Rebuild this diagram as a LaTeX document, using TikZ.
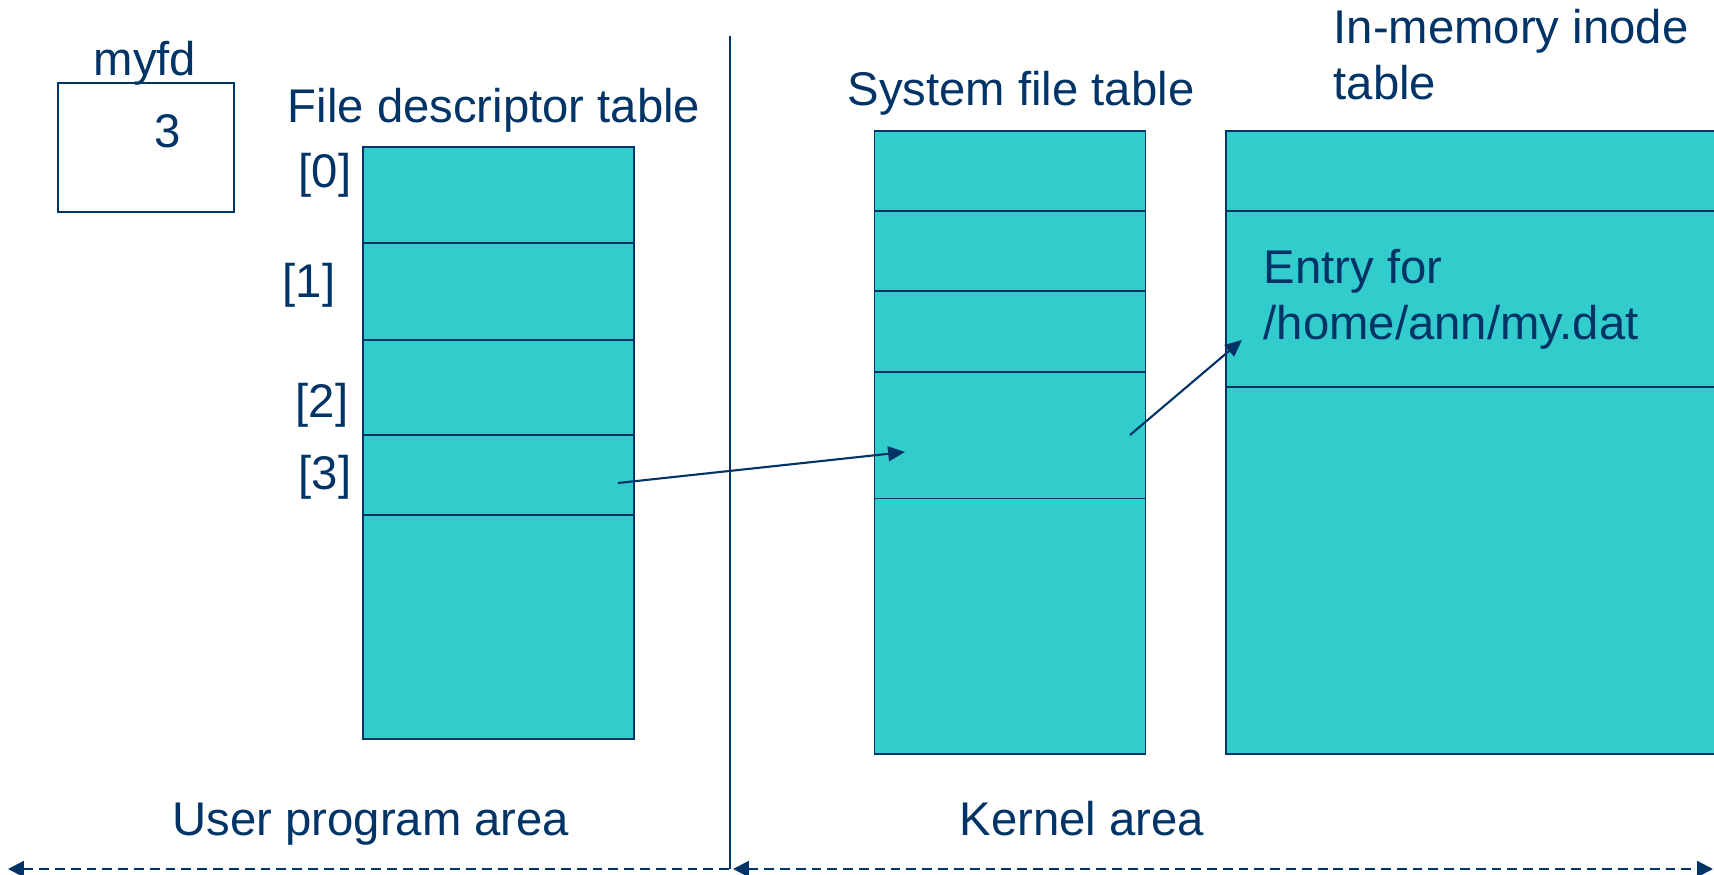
\documentclass[tikz,border=0pt]{standalone}
\usepackage{xcolor}
\usepackage{fontspec}
\setmainfont{Liberation Sans}
\usepackage{tikz}
\usetikzlibrary{arrows.meta, positioning}
\definecolor{Navy}{HTML}{003366}
\definecolor{Aqua}{HTML}{33CCCC}

\begin{document}
\begin{tikzpicture}[
  font=\fontsize{13.45}{16.2}\selectfont,
  every node/.style={text=Navy},
  label/.style={inner sep=0pt, anchor=base},
  cell/.style={draw=Navy, line width=0.5pt, fill=Aqua, inner sep=0pt},
  fdcell/.style={cell, minimum width=2.71cm},
  sfcell/.style={cell, minimum width=2.71cm},
  incell/.style={cell, minimum width=5.34cm},
  arrow/.style={-{Triangle[length=4.8pt, width=4.2pt]}, line width=0.6pt, draw=Navy},
  span/.style={line width=0.6pt, draw=Navy, dash pattern=on 2.8pt off 1.7pt},
  spanleft/.style={span, {Triangle[length=4.5pt, width=4.5pt]}-},
  spanboth/.style={span, {Triangle[length=4.5pt, width=4.5pt]}-{Triangle[length=4.5pt, width=4.5pt]}}
]
\useasboundingbox (0,0) rectangle (17.14,-8.75);
\clip (0,0) rectangle (17.14,-8.75);

% the variable holding the descriptor
\node[draw=Navy, line width=0.5pt, minimum width=1.76cm, minimum height=1.29cm, inner sep=0pt] (myfdbox) at (1.46,-1.475) {};
\node[label] (myfd) at (1.45,-0.76) {myfd};
\node[label] (myfdval) at (1.68,-1.48) {3};

% file descriptor table
\node[label] (fdtitle) at (4.94,-1.23) {File descriptor table};
\node[fdcell, minimum height=0.96cm] (fd0) at (4.985,-1.95) {};
\node[fdcell, minimum height=0.97cm] (fd1) at (4.985,-2.915) {};
\node[fdcell, minimum height=0.95cm] (fd2) at (4.985,-3.875) {};
\node[fdcell, minimum height=0.80cm] (fd3) at (4.985,-4.75) {};
\node[fdcell, minimum height=2.24cm] (fdrest) at (4.985,-6.27) {};
\node[label, anchor=base east] (idx0) at (3.52,-1.88) {[0]};
\node[label, anchor=base east] (idx1) at (3.36,-2.98) {[1]};
\node[label, anchor=base east] (idx2) at (3.49,-4.18) {[2]};
\node[label, anchor=base east] (idx3) at (3.52,-4.90) {[3]};

% system file table
\node[label] (sftitle) at (10.21,-1.06) {System file table};
\node[sfcell, minimum height=0.80cm] (sf0) at (10.10,-1.71) {};
\node[sfcell, minimum height=0.80cm] (sf1) at (10.10,-2.51) {};
\node[sfcell, minimum height=0.81cm] (sf2) at (10.10,-3.315) {};
\node[sfcell, minimum height=1.265cm] (sf3) at (10.10,-4.3525) {};
\node[sfcell, minimum height=2.555cm] (sfrest) at (10.10,-6.2625) {};

% in-memory inode table (base anchor sits on the last line)
\node[label, anchor=base west, align=left] (intitle) at (13.33,-1.00) {In-memory inode\\table};
\node[incell, minimum height=0.80cm] (in0) at (14.93,-1.71) {};
\node[incell, minimum height=1.76cm] (in1) at (14.93,-2.99) {};
\node[incell, minimum height=3.67cm] (inrest) at (14.93,-5.705) {};
\node[label, anchor=base west, align=left] (entry) at (12.63,-3.40) {Entry for\\/home/ann/my.dat};

% user / kernel split
\coordinate (divtop) at (7.30,-0.36);
\coordinate (divbot) at (7.30,-8.69);
\draw[Navy, line width=0.5pt] (divtop) -- (divbot);
\node[label] (user) at (3.71,-8.35) {User program area};
\node[label] (kernel) at (10.82,-8.35) {Kernel area};
\coordinate (userend) at (0.08,-8.69);
\coordinate (kernstart) at (7.33,-8.69);
\coordinate (kernend) at (17.13,-8.69);
\draw[spanleft] (userend) -- (divbot);
\draw[spanboth] (kernstart) -- (kernend);

% descriptor -> open file -> inode
\coordinate (fdptr) at (6.18,-4.83);
\coordinate (sfhit) at (9.05,-4.52);
\coordinate (sfptr) at (11.30,-4.35);
\coordinate (inhit) at (12.42,-3.40);
\draw[arrow] (fdptr) -- (sfhit);
\draw[arrow] (sfptr) -- (inhit);
\end{tikzpicture}
\end{document}
